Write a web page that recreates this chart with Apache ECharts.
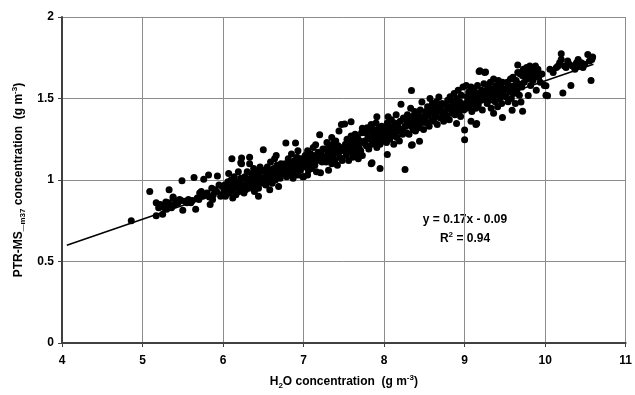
<!DOCTYPE html>
<html>
<head>
<meta charset="utf-8">
<script src="https://cdn.jsdelivr.net/npm/echarts@6/dist/echarts.min.js"></script>
<style>
  html, body { margin: 0; padding: 0; background: #fff; }
  #chart { width: 635px; height: 395px; }
</style>
</head>
<body>
<div id="chart"></div>
<script>
// axis ticks
const xTicks = [4, 5, 6, 7, 8, 9, 10, 11];
const yTicks = [0, 0.5, 1, 1.5, 2];

// regression line end points (y = 0.17x - 0.09)
const fitX = [4.06, 10.6];
const fitY = [0.60, 1.71];
const fitText = 'y = 0.17x - 0.09';
const r2Text = '0.94';

// scatter points [H2O, PTR-MS m37]
const pts5 = [
  [4.86, 0.75], [5.09, 0.93], [5.17, 0.86], [5.17, 0.78], [5.25, 0.79], [5.25, 0.845], [5.29, 0.865],
  [5.38, 0.89], [5.33, 0.94], [5.38, 0.895], [5.20, 0.83], [5.22, 0.85], [5.27, 0.83], [5.30, 0.84],
  [5.32, 0.86], [5.35, 0.85], [5.40, 0.85], [5.42, 0.87], [5.44, 0.86], [5.46, 0.88], [5.30, 0.82],
  [5.36, 0.83],
  [5.50, 0.815], [5.66, 0.82], [5.84, 0.85], [5.49, 0.995], [5.64, 1.015], [5.76, 1.005], [5.82, 1.03],
  [5.93, 1.025], [5.83, 0.895], [5.73, 0.93], [5.86, 0.95], [5.62, 0.875], [5.48, 0.875], [5.53, 0.87],
  [5.57, 0.88], [5.60, 0.86], [5.68, 0.89], [5.70, 0.88], [5.75, 0.90], [5.78, 0.91], [5.80, 0.92],
  [5.88, 0.91], [5.90, 0.94], [5.92, 0.93], [5.95, 0.97], [5.97, 0.90], [5.99, 0.96], [5.55, 0.86],
  [5.71, 0.92], [5.87, 0.88]
];
const pts6 = [
  [6.01, 0.93], [6.02, 0.97], [6.03, 0.90], [6.05, 0.95], [6.06, 0.99], [6.07, 1.04], [6.08, 0.92],
  [6.09, 0.96], [6.10, 1.00], [6.11, 0.94], [6.12, 0.89], [6.13, 0.97], [6.14, 1.02], [6.15, 0.95],
  [6.16, 0.91], [6.17, 0.99], [6.18, 0.96], [6.19, 1.05], [6.20, 0.93], [6.21, 0.98], [6.22, 1.01],
  [6.24, 0.95], [6.11, 1.13], [6.23, 1.135], [6.23, 1.10], [6.22, 1.106],
  [6.26, 0.97], [6.27, 1.02], [6.28, 0.94], [6.29, 1.00], [6.30, 1.05], [6.31, 0.98], [6.32, 0.95],
  [6.33, 1.14], [6.33, 1.10], [6.34, 1.01], [6.35, 0.96], [6.36, 1.04], [6.37, 0.99], [6.38, 1.07],
  [6.39, 0.93], [6.40, 1.02], [6.41, 0.97], [6.42, 1.05], [6.43, 1.00], [6.44, 0.95], [6.45, 1.03],
  [6.46, 1.08], [6.47, 0.98], [6.48, 1.01], [6.49, 1.06], [6.50, 1.186], [6.44, 0.90], [6.26, 0.92],
  [6.51, 1.00], [6.52, 1.05], [6.53, 0.97], [6.54, 1.03], [6.55, 1.08], [6.56, 1.01], [6.57, 0.99],
  [6.58, 1.06], [6.59, 1.11], [6.60, 1.04], [6.61, 0.98], [6.62, 1.02], [6.63, 1.07], [6.64, 1.13],
  [6.65, 1.00], [6.66, 1.05], [6.67, 1.09], [6.68, 1.03], [6.69, 0.96], [6.70, 1.06], [6.71, 1.01],
  [6.72, 1.10], [6.73, 1.04], [6.74, 1.08], [6.58, 0.94], [6.66, 1.15],
  [6.76, 1.05], [6.77, 1.10], [6.78, 1.227], [6.79, 1.02], [6.80, 1.08], [6.81, 1.13], [6.82, 1.06],
  [6.83, 1.11], [6.84, 1.04], [6.85, 1.16], [6.86, 1.09], [6.87, 1.01], [6.88, 1.07], [6.89, 1.12],
  [6.90, 1.227], [6.90, 1.05], [6.91, 1.10], [6.92, 1.14], [6.93, 1.03], [6.94, 1.08], [6.95, 1.11],
  [6.96, 1.06], [6.97, 1.13], [6.98, 1.09], [6.99, 1.02], [6.93, 1.18]
];
const pts7 = [
  [7.00, 1.02], [7.01, 1.10], [7.02, 1.15], [7.03, 1.08], [7.04, 1.12], [7.05, 1.18], [7.06, 1.06],
  [7.07, 1.13], [7.08, 1.10], [7.09, 1.16], [7.10, 1.07], [7.11, 1.14], [7.12, 1.20], [7.13, 1.11],
  [7.14, 1.09], [7.15, 1.15], [7.16, 1.05], [7.17, 1.12], [7.18, 1.17], [7.20, 1.277], [7.20, 1.13],
  [7.21, 1.045], [7.22, 1.16], [7.23, 1.11], [7.24, 1.19], [7.05, 1.03], [7.15, 1.216],
  [7.26, 1.14], [7.27, 1.19], [7.28, 1.11], [7.29, 1.23], [7.30, 1.16], [7.31, 1.06], [7.32, 1.20],
  [7.33, 1.13], [7.34, 1.18], [7.35, 1.10], [7.36, 1.22], [7.37, 1.15], [7.38, 1.19], [7.39, 1.12],
  [7.40, 1.24], [7.41, 1.17], [7.42, 1.09], [7.43, 1.21], [7.44, 1.30], [7.45, 1.14], [7.46, 1.18],
  [7.47, 1.34], [7.48, 1.12], [7.49, 1.20], [7.35, 1.26],
  [7.51, 1.343], [7.51, 1.18], [7.52, 1.22], [7.53, 1.15], [7.54, 1.25], [7.55, 1.19], [7.56, 1.12],
  [7.57, 1.23], [7.58, 1.17], [7.59, 1.358], [7.59, 1.27], [7.60, 1.21], [7.61, 1.14], [7.62, 1.24],
  [7.63, 1.19], [7.64, 1.28], [7.65, 1.16], [7.66, 1.22], [7.67, 1.26], [7.68, 1.13], [7.69, 1.20],
  [7.70, 1.24], [7.71, 1.18], [7.72, 1.29], [7.73, 1.15], [7.73, 1.317], [7.74, 1.23],
  [7.76, 1.24], [7.77, 1.29], [7.78, 1.21], [7.79, 1.32], [7.80, 1.26], [7.81, 1.19], [7.82, 1.30],
  [7.83, 1.25], [7.84, 1.10], [7.84, 1.34], [7.85, 1.106], [7.85, 1.22], [7.86, 1.28], [7.87, 1.31],
  [7.88, 1.23], [7.89, 1.27], [7.90, 1.35], [7.91, 1.388], [7.91, 1.20], [7.92, 1.29], [7.93, 1.25],
  [7.94, 1.32], [7.95, 1.07], [7.95, 1.22], [7.96, 1.28], [7.97, 1.33], [7.98, 1.24], [7.99, 1.30]
];
const pts8 = [
  [8.01, 1.26], [8.02, 1.31], [8.03, 1.23], [8.04, 1.156], [8.04, 1.35], [8.05, 1.388], [8.05, 1.28],
  [8.06, 1.33], [8.07, 1.25], [8.08, 1.30], [8.09, 1.37], [8.10, 1.27], [8.11, 1.32], [8.12, 1.22],
  [8.13, 1.35], [8.14, 1.29], [8.15, 1.40], [8.16, 1.26], [8.17, 1.33], [8.18, 1.30], [8.19, 1.24],
  [8.20, 1.36], [8.21, 1.464], [8.22, 1.31], [8.23, 1.28], [8.24, 1.38],
  [8.26, 1.065], [8.26, 1.33], [8.27, 1.37], [8.28, 1.29], [8.29, 1.40], [8.30, 1.35], [8.31, 1.28],
  [8.32, 1.38], [8.33, 1.44], [8.34, 1.549], [8.34, 1.213], [8.34, 1.33], [8.35, 1.216], [8.35, 1.39],
  [8.36, 1.31], [8.37, 1.36], [8.38, 1.42], [8.39, 1.30], [8.40, 1.37], [8.41, 1.34], [8.42, 1.40],
  [8.43, 1.32], [8.44, 1.237], [8.44, 1.38], [8.45, 1.43], [8.46, 1.35], [8.47, 1.478], [8.48, 1.39],
  [8.49, 1.31],
  [8.51, 1.38], [8.52, 1.42], [8.53, 1.35], [8.54, 1.45], [8.55, 1.40], [8.56, 1.33], [8.57, 1.50],
  [8.58, 1.43], [8.59, 1.37], [8.60, 1.47], [8.61, 1.41], [8.62, 1.36], [8.63, 1.44], [8.64, 1.39],
  [8.65, 1.48], [8.66, 1.34], [8.67, 1.42], [8.68, 1.509], [8.69, 1.45], [8.70, 1.38], [8.71, 1.43],
  [8.72, 1.47], [8.73, 1.40], [8.74, 1.36],
  [8.76, 1.42], [8.77, 1.46], [8.78, 1.39], [8.79, 1.49], [8.80, 1.44], [8.81, 1.37], [8.82, 1.51],
  [8.83, 1.45], [8.84, 1.41], [8.85, 1.48], [8.86, 1.43], [8.87, 1.53], [8.88, 1.40], [8.89, 1.46],
  [8.90, 1.347], [8.90, 1.50], [8.91, 1.44], [8.92, 1.55], [8.93, 1.42], [8.94, 1.48], [8.95, 1.39],
  [8.96, 1.52], [8.97, 1.45], [8.98, 1.57], [8.99, 1.43]
];
const pts9 = [
  [9.00, 1.247], [9.00, 1.307], [9.01, 1.47], [9.02, 1.579], [9.02, 1.44], [9.03, 1.51], [9.04, 1.48],
  [9.05, 1.54], [9.06, 1.45], [9.07, 1.50], [9.08, 1.57], [9.08, 1.36], [9.09, 1.42], [9.10, 1.52],
  [9.11, 1.47], [9.12, 1.55], [9.13, 1.49], [9.14, 1.44], [9.14, 1.34], [9.15, 1.347], [9.15, 1.53],
  [9.16, 1.58], [9.17, 1.46], [9.18, 1.666], [9.18, 1.51], [9.19, 1.67], [9.20, 1.49], [9.21, 1.55],
  [9.22, 1.43], [9.23, 1.52], [9.24, 1.59], [9.25, 1.66],
  [9.26, 1.663], [9.26, 1.50], [9.27, 1.55], [9.28, 1.47], [9.29, 1.58], [9.30, 1.53], [9.31, 1.49],
  [9.32, 1.60], [9.33, 1.44], [9.34, 1.56], [9.35, 1.51], [9.36, 1.41], [9.36, 1.62], [9.37, 1.54],
  [9.38, 1.48], [9.39, 1.58], [9.40, 1.52], [9.41, 1.45], [9.42, 1.61], [9.43, 1.55], [9.44, 1.50],
  [9.45, 1.57], [9.46, 1.47], [9.47, 1.384], [9.47, 1.60], [9.48, 1.53], [9.49, 1.56],
  [9.51, 1.51], [9.52, 1.56], [9.53, 1.60], [9.54, 1.48], [9.55, 1.58], [9.56, 1.54], [9.57, 1.62],
  [9.58, 1.50], [9.59, 1.428], [9.59, 1.57], [9.60, 1.63], [9.61, 1.53], [9.62, 1.58], [9.63, 1.47],
  [9.64, 1.61], [9.65, 1.55], [9.66, 1.706], [9.66, 1.66], [9.67, 1.59], [9.68, 1.52], [9.69, 1.65],
  [9.70, 1.478], [9.70, 1.66], [9.71, 1.57], [9.72, 1.422], [9.72, 1.64], [9.73, 1.68], [9.74, 1.60],
  [9.76, 1.66], [9.77, 1.69], [9.78, 1.62], [9.79, 1.518], [9.79, 1.67], [9.80, 1.64], [9.81, 1.70],
  [9.82, 1.58], [9.83, 1.66], [9.84, 1.69], [9.85, 1.61], [9.86, 1.67], [9.87, 1.64], [9.88, 1.70],
  [9.89, 1.55], [9.90, 1.66], [9.91, 1.68], [9.92, 1.63], [9.94, 1.60], [9.96, 1.65], [9.99, 1.58]
];
const pts10 = [
  [10.01, 1.52], [10.01, 1.578], [10.03, 1.517], [10.06, 1.68], [10.10, 1.66], [10.14, 1.69],
  [10.16, 1.70], [10.18, 1.72], [10.20, 1.775], [10.20, 1.74], [10.22, 1.533], [10.24, 1.70],
  [10.26, 1.69], [10.28, 1.73], [10.30, 1.71], [10.32, 1.58], [10.34, 1.70], [10.37, 1.68],
  [10.39, 1.72], [10.41, 1.74], [10.43, 1.70], [10.45, 1.72], [10.47, 1.69], [10.49, 1.71],
  [10.53, 1.77], [10.55, 1.73], [10.57, 1.61], [10.59, 1.754], [10.58, 1.74]
];

const FONT = '"Liberation Sans", Arial, sans-serif';
const points = [].concat(pts5, pts6, pts7, pts8, pts9, pts10);

const chart = echarts.init(document.getElementById('chart'), null, { renderer: 'canvas' });

// rich styles for sub/superscripts in titles
const titleRich = {
    a: { fontFamily: FONT, fontWeight: 'bold', fontSize: 12, color: '#000', lineHeight: 16, verticalAlign: 'middle' },
    s: { fontFamily: FONT, fontWeight: 'bold', fontSize: 8, color: '#000', lineHeight: 16, verticalAlign: 'bottom', padding: [6, 0, 0, 0] },
    p: { fontFamily: FONT, fontWeight: 'bold', fontSize: 8, color: '#000', lineHeight: 16, verticalAlign: 'top', padding: [0, 0, 6, 0] },
};

chart.setOption({
    animation: false,
    backgroundColor: '#fff',
    grid: { left: 62, right: 7, top: 17, bottom: 47, containLabel: false },
    xAxis: {
        type: 'value',
        min: xTicks[0],
        max: xTicks[xTicks.length - 1],
        interval: 1,
        name: '{a|H}{s|2}{a|O concentration  (g m}{p|-3}{a|)}',
        nameLocation: 'middle',
        nameGap: 31,
        nameTextStyle: { rich: titleRich },
        axisLine: { lineStyle: { color: '#404040', width: 2 } },
        axisTick: { show: true, length: 4, lineStyle: { color: '#404040' } },
        axisLabel: { margin: 12, color: '#000', fontFamily: FONT, fontWeight: 'bold', fontSize: 12 },
        splitLine: { show: true, lineStyle: { color: '#8c8c8c', width: 1 } },
    },
    yAxis: {
        type: 'value',
        min: yTicks[0],
        max: yTicks[yTicks.length - 1],
        interval: 0.5,
        name: '{a|PTR-MS_}{s|m37}{a| concentration  (g m}{p|-3}{a|)}',
        nameLocation: 'middle',
        nameRotate: 90,
        nameGap: 35,
        nameTextStyle: { rich: titleRich },
        axisLine: { show: true, lineStyle: { color: '#404040', width: 2 } },
        axisTick: { show: true, length: 4, lineStyle: { color: '#404040' } },
        axisLabel: { margin: 8, color: '#000', fontFamily: FONT, fontWeight: 'bold', fontSize: 12 },
        splitLine: { show: true, lineStyle: { color: '#8c8c8c', width: 1 } },
    },
    graphic: [
        {
            type: 'text',
            x: 465, y: 220,
            style: { text: fitText, fill: '#000', font: 'bold 12px ' + FONT, textAlign: 'center', textVerticalAlign: 'middle' },
        },
        {
            type: 'text',
            x: 465, y: 239,
            style: {
                text: '{a|R}{p|2}{a| = ' + r2Text + '}',
                textAlign: 'center', textVerticalAlign: 'middle',
                rich: titleRich,
            },
        },
    ],
    series: [
        {
            type: 'scatter',
            data: points,
            symbol: 'circle',
            symbolSize: 7,
            itemStyle: { color: '#000', opacity: 1 },
            z: 2,
        },
        {
            type: 'line',
            data: fitX.map((x, i) => [x, fitY[i]]),
            showSymbol: false,
            symbol: 'none',
            lineStyle: { color: '#000', width: 1.5 },
            z: 3,
        },
    ],
});
</script>
</body>
</html>
